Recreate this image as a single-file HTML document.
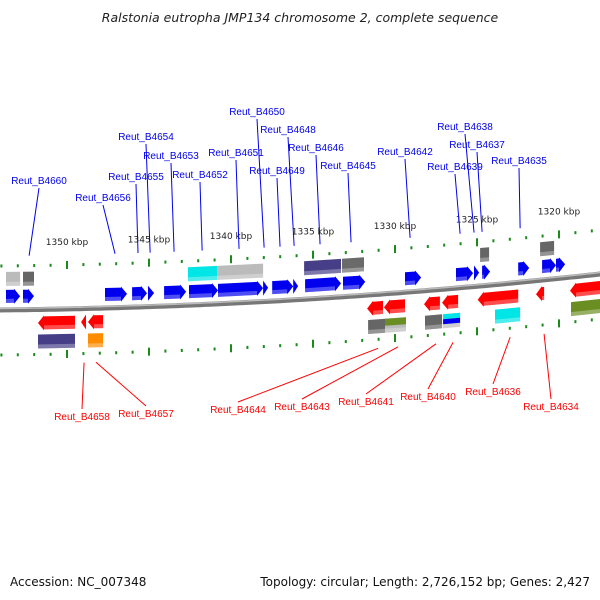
<!DOCTYPE html>
<html><head><meta charset="utf-8"><style>
body{margin:0;background:#fff;}
svg{display:block;font-family:"Liberation Sans",sans-serif;}
</style></head><body>
<svg id="map" width="600" height="600" viewBox="0 0 600 600">
<text x="300" y="22" text-anchor="middle" font-size="12.5" font-style="italic" fill="#222" style="font-family:'DejaVu Sans',sans-serif">Ralstonia eutropha JMP134 chromosome 2, complete sequence</text>
<text x="10" y="586" font-size="12" fill="#111" style="font-family:'DejaVu Sans',sans-serif">Accession: NC_007348</text>
<text x="590" y="586" text-anchor="end" font-size="12" fill="#111" style="font-family:'DejaVu Sans',sans-serif">Topology: circular; Length: 2,726,152 bp; Genes: 2,427</text>
</svg>
<script>
// axis ticks (kbp)
const tickStart = 1355, tickEnd = 1318;
const majorLabels = [1350,1345,1340,1335,1330,1325,1320];
// forward genes (kbp from/to)
const fwdFrom = [1353.72,1352.68,1347.68,1346.03,1345.06,1344.08,1342.56,1340.79,1338.04,1337.49,1336.21,1335.48,1333.17,1329.39,1326.28,1325.18,1324.69,1322.49,1321.03,1320.18];
const fwdTo   = [1352.86,1352.01,1346.34,1345.12,1344.69,1342.74,1340.79,1338.04,1337.74,1336.21,1335.91,1333.29,1331.82,1328.41,1325.24,1324.87,1324.20,1321.82,1320.18,1319.63];
// reverse genes
const revFrom = [1351.77,1349.14,1348.72,1331.70,1330.67,1328.23,1327.13,1324.96,1321.40,1319.33];
const revTo   = [1349.51,1348.84,1347.80,1330.73,1329.39,1327.26,1326.15,1322.49,1320.91,1317.40];
// feature boxes: upper
const upFrom = [1353.72,1352.68,1342.62,1340.85,1335.54,1333.23,1324.81,1321.15];
const upTo   = [1352.86,1352.01,1340.85,1338.04,1333.29,1331.89,1324.26,1320.30];
const upColor = ["#bbbbbb","#666666","#00e5e5","#bbbbbb","#463e86","#6a6a6a","#666666","#666666"];
// feature boxes: lower
const loFrom = [1351.77,1348.72,1331.64,1330.61,1328.17,1327.07,1323.90,1319.27];
const loTo   = [1349.51,1347.80,1330.61,1329.33,1327.13,1326.03,1322.37,1317.40];
const loColor = ["#463e86","#ff8c00","#666666","olive","#666666","stripes","#00e5e5","#6b8e23"];
// labels
const upNames = ["Reut_B4660","Reut_B4656","Reut_B4655","Reut_B4654","Reut_B4653","Reut_B4652","Reut_B4651","Reut_B4650","Reut_B4649","Reut_B4648","Reut_B4646","Reut_B4645","Reut_B4642","Reut_B4638","Reut_B4637","Reut_B4639","Reut_B4635"];
const upKbp = [1352.31,1347.07,1345.67,1344.93,1343.47,1341.76,1339.51,1337.98,1337.01,1336.15,1334.57,1332.68,1329.08,1325.18,1324.69,1326.03,1322.37];
const upLabelX = [39,103,136,146,171,200,236,257,277,288,316,348,405,465,477,455,519];
const upLabelY = [184,201,180,140,159,178,156,115,174,133,151,169,155,130,148,170,164];
const loNames = ["Reut_B4658","Reut_B4657","Reut_B4644","Reut_B4643","Reut_B4641","Reut_B4640","Reut_B4636","Reut_B4634"];
const loKbp = [1348.96,1348.23,1331.03,1329.81,1327.5,1326.46,1322.98,1320.91];
const loLabelX = [82,146,238,302,366,428,493,551];
const loLabelY = [420,417,413,410,405,400,395,410];

const svg = document.getElementById('map');
const NS = 'http://www.w3.org/2000/svg';
const X = k => 67 + (1350 - k) * 16.4;
const LY = x => 310 - 0.01 * x - 0.0000833 * x * x;
function el(tag, attrs, parent) { const e = document.createElementNS(NS, tag); for (const a in attrs) e.setAttribute(a, attrs[a]); (parent || svg).appendChild(e); return e; }
function P(x, off) { return x.toFixed(1) + ',' + (LY(x) + off).toFixed(1); }

// backbone
let d = '';
for (let x = -5; x <= 605; x += 5) d += (x === -5 ? 'M' : 'L') + x + ',' + LY(x).toFixed(1);
const bb = el('path', {d: d, stroke: '#777', 'stroke-width': 5, fill: 'none'});


const bb2 = el('path', {d: d, stroke: '#bbb', 'stroke-width': 1.5, fill: 'none', transform: 'translate(0,-1.5)'});



// ticks
for (let k = tickStart; k >= tickEnd; k--) {
  const x = X(k); if (x < -2 || x > 602) continue;
  const major = k % 5 === 0;
  [-44, 45].forEach(off => {
    const h = major ? 8 : 3;
    const t = el('rect', {x: x - 1, y: LY(x) + off - h / 2, width: 2, height: h, fill: '#1a8a1a'});
    
    
  });
}
majorLabels.forEach(k => {
  const x = X(k);
  const t = el('text', {x: x, y: LY(x) - 64, 'text-anchor': 'middle', 'font-size': 9, fill: '#222', style: "font-family:'DejaVu Sans',sans-serif"});
  t.textContent = k + ' kbp';
  
  
});

function shade(x1, x2, top, bot) {
  const s = el('polygon', {points: [P(x1, bot - 4), P(x2, bot - 4), P(x2, bot), P(x1, bot)].join(' '), fill: '#fff', opacity: 0.3});
  
  
}
function arrow(k1, k2, dir, top, bot, color, name) {
  const x1 = X(k1), x2 = X(k2), len = x2 - x1, h = Math.min(6, len), mid = (top + bot) / 2;
  let pts;
  if (dir > 0) pts = [P(x1, top), P(x2 - h, top), P(x2 - h, top - 1), P(x2, mid), P(x2 - h, bot + 1), P(x2 - h, bot), P(x1, bot)];
  else pts = [P(x2, top), P(x1 + h, top), P(x1 + h, top - 1), P(x1, mid), P(x1 + h, bot + 1), P(x1 + h, bot), P(x2, bot)];
  if (len <= 7) pts = dir > 0 ? [P(x1, top - 1), P(x2, mid), P(x1, bot + 1)] : [P(x2, top - 1), P(x1, mid), P(x2, bot + 1)];
  const a = el('polygon', {points: pts.join(' '), fill: color});
  
  
  if (len > 7) shade(dir > 0 ? x1 : x1 + h, dir > 0 ? x2 - h : x2, top, bot);
}
function box(k1, k2, top, bot, color, name) {
  const x1 = X(k1), x2 = Math.min(X(k2), 605);
  const fill = (color === 'olive' || color === 'stripes') ? '#bbbbbb' : color;
  const b = el('polygon', {points: [P(x1, top), P(x2, top), P(x2, bot), P(x1, bot)].join(' '), fill: fill});
  
  
  if (color === 'olive') {
    const o = el('polygon', {points: [P(x1, top), P(x2, top), P(x2, top + 7), P(x1, top + 7)].join(' '), fill: '#6b8e23'});
    
    
  }
  if (color === 'stripes') {
    const c = el('polygon', {points: [P(x1, top), P(x2, top), P(x2, top + 5), P(x1, top + 5)].join(' '), fill: '#00e5e5'});
    
    
    const bl = el('polygon', {points: [P(x1, top + 5), P(x2, top + 5), P(x2, top + 10), P(x1, top + 10)].join(' '), fill: '#0000ee'});
    
    
  }
  shade(x1, x2, top, bot);
}
fwdFrom.forEach((k, i) => arrow(k, fwdTo[i], 1, -20, -7, '#0000ee', 'forward-gene'));
revFrom.forEach((k, i) => arrow(k, revTo[i], -1, 7, 20, '#ff0000', 'reverse-gene'));
upFrom.forEach((k, i) => box(k, upTo[i], -38, -24, upColor[i], 'upper-feature'));
loFrom.forEach((k, i) => box(k, loTo[i], 25, 39, loColor[i], 'lower-feature'));

// labels
upNames.forEach((n, i) => {
  const x = X(upKbp[i]);
  const l = el('line', {x1: upLabelX[i], y1: upLabelY[i] + 4, x2: x, y2: LY(x) - 54, stroke: '#0000ee', 'stroke-width': 1});
  
  
  const t = el('text', {x: upLabelX[i], y: upLabelY[i], 'text-anchor': 'middle', 'font-size': 10, fill: '#0000ee'});
  t.textContent = n;
  
  
});
loNames.forEach((n, i) => {
  const x = X(loKbp[i]);
  const l = el('line', {x1: x, y1: LY(x) + 54, x2: loLabelX[i], y2: loLabelY[i] - 11, stroke: '#ff0000', 'stroke-width': 1});
  
  
  const t = el('text', {x: loLabelX[i], y: loLabelY[i], 'text-anchor': 'middle', 'font-size': 10, fill: '#ff0000'});
  t.textContent = n;
  
  
});
</script>
</body></html>
